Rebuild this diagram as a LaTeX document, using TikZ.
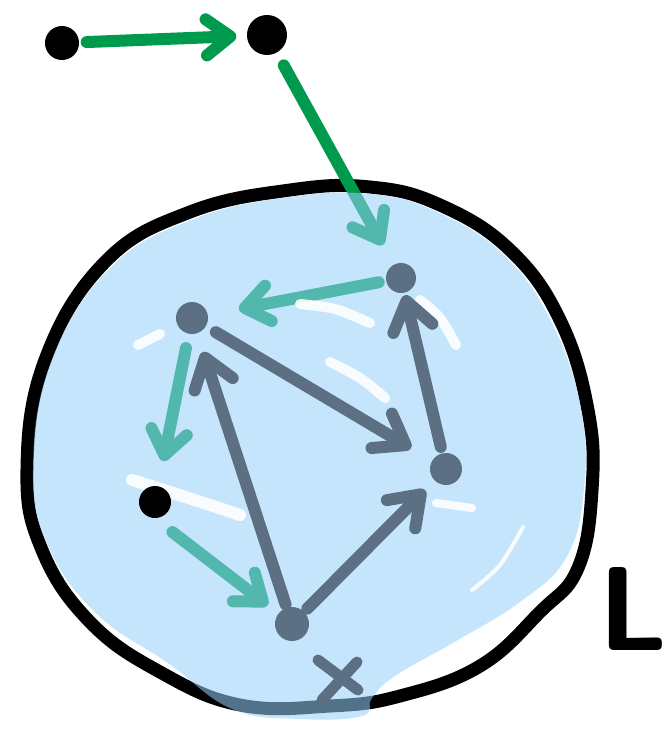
\documentclass[tikz,border=0pt]{standalone}
\usepackage{tikz}
\usetikzlibrary{arrows.meta}
\definecolor{greenink}{RGB}{0,154,78}
\definecolor{slate}{RGB}{93,111,130}
\definecolor{paintblue}{RGB}{150,208,250}
\pgfdeclarelayer{ink}
\pgfdeclarelayer{paint}
\pgfsetlayers{ink,paint,main}

\begin{document}
\begin{tikzpicture}[x=0.01cm, y=-0.01cm,
    inkdot/.style={circle, fill=black, inner sep=0pt, minimum size=0.34cm},
    graydot/.style={circle, fill=slate, inner sep=0pt, minimum size=0.32cm},
    greenarrow/.style={-{Straight Barb[length=0.24cm, width=0.36cm, round]}, line width=0.12cm, greenink, line cap=round},
    grayarrow/.style={-{Straight Barb[length=0.28cm, width=0.40cm, round]}, line width=0.12cm, slate, line cap=round},
    streak/.style={white, opacity=0.9, line cap=round, line width=0.1cm}]
    \useasboundingbox (0,0) rectangle (665,733);
    \node[inkdot] (start) at (62,43) {};
    \node[inkdot, minimum size=0.40cm] (entry) at (267,35) {};
    \node[graydot] (a) at (192,318) {};
    \node[graydot, minimum size=0.30cm] (b) at (401,278) {};
    \node[graydot] (c) at (446,469) {};
    \node[graydot, minimum size=0.34cm] (d) at (292,624) {};
    \node[inkdot, minimum size=0.32cm] (e) at (155,502) {};
    \node[anchor=base west, inner sep=0pt, font=\sffamily\bfseries\fontsize{34}{34}\selectfont] (lbl) at (598,650) {L};
    \begin{pgfonlayer}{ink}
        \draw[line width=0.13cm] plot[smooth cycle, tension=0.7] coordinates {
            (27,470) (45,360) (105,262) (190,212) (290,190) (370,187) (440,205) (510,250)
            (560,320) (588,410) (592,490) (578,568) (540,612) (480,666) (400,696) (330,706)
            (240,705) (160,672) (90,622) (42,550)};
        \draw[greenarrow, shorten <=0.07cm, shorten >=0.10cm] (start) -- (entry);
        \draw[greenarrow, shorten <=0.14cm, shorten >=0.22cm] (entry) -- (b);
        \draw[greenarrow, shorten <=0.07cm, shorten >=0.31cm] (b) -- (a);
        \draw[greenarrow, shorten <=0.14cm, shorten >=0.25cm] (a) -- (e);
        \draw[greenarrow, shorten <=0.22cm, shorten >=0.13cm] (e.south) -- (d);
    \end{pgfonlayer}
    \begin{pgfonlayer}{paint}
        \fill[paintblue, opacity=0.55] plot[smooth cycle, tension=0.7] coordinates {
            (33,470) (51,362) (110,268) (194,219) (290,197) (370,194) (437,212) (505,256)
            (553,325) (581,410) (584,490) (566,558) (520,602) (458,640) (395,676) (372,698)
            (362,716) (300,719) (232,709) (168,663) (98,615) (49,548)};
        \draw[streak] plot[smooth] coordinates {(300,304) (335,309) (370,323)};
        \draw[streak] plot[smooth] coordinates {(330,362) (360,378) (385,398)};
        \draw[streak] (138,345) -- (160,334);
        \draw[streak] plot[smooth] coordinates {(420,300) (440,318) (456,345)};
        \draw[streak, line width=0.12cm] plot[smooth] coordinates {(132,480) (170,492) (210,505) (240,515)};
        \draw[streak, line width=0.08cm] (436,503) -- (472,508);
        \draw[streak, line width=0.04cm] plot[smooth] coordinates {(523,527) (500,565) (472,590)};
    \end{pgfonlayer}
    \draw[grayarrow, shorten <=0.11cm, shorten >=0.24cm] (a) -- (c);
    \draw[grayarrow, shorten <=0.06cm, shorten >=0.02cm] (c) -- (b);
    \draw[grayarrow, shorten <=0.03cm, shorten >=0.19cm] (d) -- (a);
    \draw[grayarrow, shorten <=0.04cm, shorten >=0.13cm] (d) -- (c);
    \draw[slate, line width=0.11cm, line cap=round] (318,660) -- (358,690) (357,662) -- (322,700);
\end{tikzpicture}
\end{document}
